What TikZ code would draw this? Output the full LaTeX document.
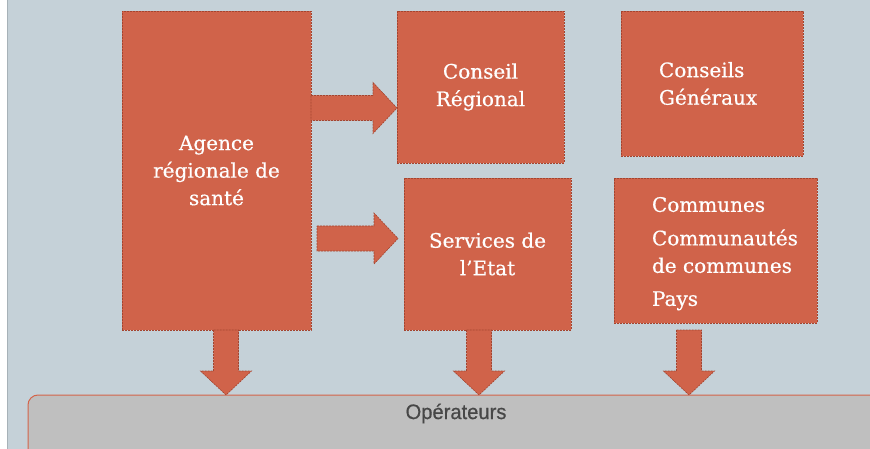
\documentclass[tikz,border=0pt]{standalone}
\usepackage{fontspec}
\setmainfont{DejaVu Serif}[FakeBold=0.5]
\newfontfamily\opfont[FakeStretch=0.96,FakeBold=0.6]{Liberation Sans}
\usetikzlibrary{calc}
\definecolor{bgc}{HTML}{C5D1D8}
\definecolor{boxfill}{HTML}{D0634A}
\definecolor{boxline}{HTML}{A4442F}
\definecolor{opfill}{HTML}{BFBFBF}
\definecolor{opline}{HTML}{D4644A}
\definecolor{optext}{HTML}{474747}
\definecolor{leftline}{HTML}{A7B2B8}
\tikzset{
  orgbox/.style={rectangle, anchor=north west, inner sep=0pt, outer sep=0pt,
    fill=boxfill, draw=boxline, line width=0.6pt, dash pattern=on 2pt off 1pt,
    text=white, align=center, font=\fontsize{20}{27.5}\selectfont},
  orgtext/.style={inner sep=0pt, outer sep=0pt, text=white, align=left,
    font=\fontsize{20}{27.5}\selectfont},
  blockarrow/.style={fill=boxfill, draw=boxline, line width=0.6pt, dash pattern=on 2pt off 1pt},
  rightarrow/.style={to path={($(\tikztostart)+(0,-12.5)$) -- ($(\tikztotarget)+(-24,-12.5)$)
    -- ($(\tikztotarget)+(-24,-25.5)$) -- (\tikztotarget) -- ($(\tikztotarget)+(-24,25.5)$)
    -- ($(\tikztotarget)+(-24,12.5)$) -- ($(\tikztostart)+(0,12.5)$) -- cycle}},
  downarrow/.style={to path={($(\tikztostart)+(-12.5,0)$) -- ($(\tikztotarget)+(-12.5,-24)$)
    -- ($(\tikztotarget)+(-25.5,-24)$) -- (\tikztotarget) -- ($(\tikztotarget)+(25.5,-24)$)
    -- ($(\tikztotarget)+(12.5,-24)$) -- ($(\tikztostart)+(12.5,0)$) -- cycle}},
}
\begin{document}
\begin{tikzpicture}[x=1pt,y=-1pt]
\path[use as bounding box] (0,0) rectangle (870,449);
\fill[bgc] (7,0) rectangle (870,449);
\draw[leftline, line width=0.8pt] (7,0) -- (7,449);

% operators bar
\node[rectangle, anchor=north west, inner sep=0pt, outer sep=0pt, minimum width=860pt, minimum height=80pt,
  fill=opfill, draw=opline, line width=1pt, rounded corners=10pt] (op) at (28,395) {};
\node[font=\opfont\fontsize{21}{24}\selectfont, text=optext, inner sep=0pt] (opt) at (456,413.5) {Opérateurs};

% boxes
\node[orgbox, minimum width=189pt, minimum height=319pt] (ars) at (122,11) {Agence\\régionale de\\santé};
\node[orgbox, minimum width=167pt, minimum height=152pt] (cr) at (397,11) {Conseil\\Régional};
\node[orgbox, minimum width=182pt, minimum height=145pt, align=left, text width=120pt] (cg) at (621,11) {\hspace*{7pt}Conseils\\\hspace*{7pt}Généraux};
\node[orgbox, minimum width=167pt, minimum height=152pt] (svc) at (404,178) {Services de\\l’Etat};
\node[orgbox, minimum width=203pt, minimum height=145pt] (comm) at (614,178) {};
\node[orgtext, anchor=north west] (commt) at ($(comm.north west)+(38,19)$)
  {Communes\\[6pt]Communautés\\de communes\\[5.5pt]Pays};

% right arrows
\coordinate (a1t) at ([yshift=-21pt]cr.west);
\coordinate (a1s) at (ars.east |- a1t);
\draw[blockarrow, rightarrow] (a1s) to (a1t);
\coordinate (a2t) at ([xshift=-6pt,yshift=15.5pt]svc.west);
\coordinate (a2s) at ([xshift=6pt]ars.east |- a2t);
\draw[blockarrow, rightarrow] (a2s) to (a2t);

% down arrows
\coordinate (d1s) at ([xshift=9.5pt]ars.south);
\coordinate (d1t) at (d1s |- op.north);
\draw[blockarrow, downarrow] (d1s) to (d1t);
\coordinate (d2s) at ([xshift=-8.5pt]svc.south);
\coordinate (d2t) at (d2s |- op.north);
\draw[blockarrow, downarrow] (d2s) to (d2t);
\coordinate (d3s) at ([xshift=-26.5pt,yshift=-7pt]comm.south);
\coordinate (d3t) at (d3s |- op.north);
\draw[blockarrow, downarrow] (d3s) to (d3t);
\end{tikzpicture}
\end{document}
